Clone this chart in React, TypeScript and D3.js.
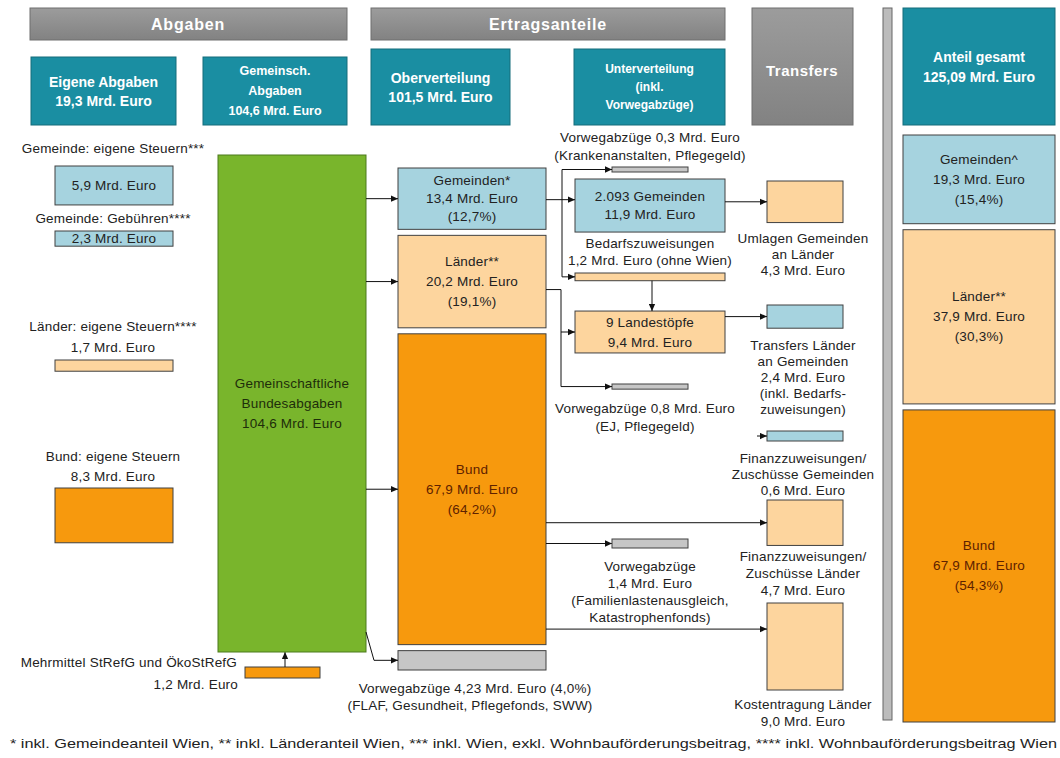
import React from "react";
import * as d3 from "d3";

// ---- data (Mrd. Euro) ----
const eigeneLabels = [
  ["Gemeinde: eigene Steuern***"],
  ["Gemeinde: Gebühren****"],
  ["Länder: eigene Steuern****"],
  ["Bund: eigene Steuern"],
];
const eigeneValues = [5.9, 2.3, 1.7, 8.3];
const eigeneTotal = 19.3;
const mehrmittelValue = 1.2;
const gemeinschValue = 104.6;

const oberLabels = ["Gemeinden*", "Länder**", "Bund"];
const oberValues = [13.4, 20.2, 67.9];
const oberShares = [12.7, 19.1, 64.2];
const oberTotal = 101.5;
const oberVorweg = 4.23;
const oberVorwegShare = 4.0;

const unterLabels = ["2.093 Gemeinden", "9 Landestöpfe"];
const unterValues = [11.9, 9.4];
const bedarfValue = 1.2;
const vorwegValues = [0.3, 0.8, 1.4];

const transferLabels = [
  ["Umlagen Gemeinden", "an Länder"],
  ["Transfers Länder", "an Gemeinden"],
  ["Finanzzuweisungen/", "Zuschüsse Gemeinden"],
  ["Finanzzuweisungen/", "Zuschüsse Länder"],
  ["Kostentragung Länder"],
];
const transferValues = [4.3, 2.4, 0.6, 4.7, 9.0];

const gesamtLabels = ["Gemeinden^", "Länder**", "Bund"];
const gesamtValues = [19.3, 37.9, 67.9];
const gesamtShares = [15.4, 30.3, 54.3];
const gesamtTotal = 125.09;

const footnote =
  "* inkl. Gemeindeanteil Wien, ** inkl. Länderanteil Wien, *** inkl. Wien, exkl. Wohnbauförderungsbeitrag, **** inkl. Wohnbauförderungsbeitrag Wien";

// ---- formatting ----
const de = d3.formatLocale({ decimal: ",", thousands: ".", grouping: [3], currency: ["", " €"] });
const f1 = de.format(".1f");
const f2 = de.format(".2f");
const mrd = (v: number, f = f1) => `${f(v)} Mrd. Euro`;
const pct = (v: number) => `(${f1(v)}%)`;

const C = {
  teal: "#1a8ea2",
  tealEdge: "#146c7b",
  blue: "#a6d3df",
  orangeLight: "#fdd59e",
  orange: "#f7990d",
  green: "#79b52c",
  gray: "#c6c6c6",
  stroke: "#404040",
  text: "#222",
  bund: "#5e2200",
};
const FONT = "'Liberation Sans', Arial, sans-serif";

// ---- layout ----
const COL = {
  eigen: [55, 173],
  gem: [218, 366],
  ober: [398, 546],
  unter: [575, 725],
  bar: [612, 688],
  transfer: [767, 843],
  gesamt: [903, 1055],
};
const GAP = 6;

// scales
const hEigen = d3.scaleLinear().domain([0, 10]).range([0, 66]);
const hGem = d3.scaleLinear().domain([0, gemeinschValue]).range([0, 497]);
const oberAll = [...oberValues, oberVorweg];
const hOber = d3.scaleLinear().domain([0, d3.sum(oberAll)]).range([0, 670 - 168 - GAP * 3]);
const hUnter = d3.scaleLinear().domain([0, 12]).range([0, 53.5]);
const hBar = d3.scaleLinear().domain([0, 1.4]).range([0, 9]);
const hTransfer = d3.scaleLinear().domain([0, 9]).range([0, 87]);
const hGesamt = d3.scaleLinear().domain([0, d3.sum(gesamtValues)]).range([0, 722 - 135 - GAP * 2]);

const stack = (vals: number[], top: number, h: (v: number) => number) => {
  let acc = top;
  return vals.map((v) => {
    const y = acc;
    const hh = h(v);
    acc += hh + GAP;
    return { y, h: hh, v };
  });
};

const eigeneTops = [166, 231, 360, 488];
const eigeneLabelY = [[148], [218], [326, 347], [456, 476]];
const eigeneBoxes = eigeneValues.map((v, i) => ({ y: eigeneTops[i], h: hEigen(v), v }));
const mehrBox = { y: 667, h: Math.max(11, hEigen(mehrmittelValue)) };
const gemBox = { y: 155, h: hGem(gemeinschValue) };
const oberBoxes = stack(oberAll, 168, hOber);
const gesamtBoxes = stack(gesamtValues, 135, hGesamt);

const barH = (v: number) => Math.max(5, hBar(v));
const v03 = { y: 167, h: barH(vorwegValues[0]) };
const unterGem = { y: 179, h: hUnter(unterValues[0]) };
const bedarf = { y: 273, h: barH(bedarfValue) };
const landH = hUnter(unterValues[1]);
const land = { y: 332 - landH / 2, h: landH };
const v08 = { y: 384, h: barH(vorwegValues[1]) };
const v14 = { y: 539, h: barH(vorwegValues[2]) };

const transferTops = [181, 305, 431, 500, 603];
const transferLabelY = [[238, 254, 270], [345, 361, 377, 393, 409], [458, 474, 490], [556, 573, 590], [704, 721]];
const transferBoxes = transferValues.map((v, i) => ({ y: transferTops[i], h: Math.max(10, hTransfer(v)), v }));
const transferExtra = [[], ["(inkl. Bedarfs-", "zuweisungen)"], [], [], []];

const mid = (b: { y: number; h: number }) => b.y + b.h / 2;
const line = d3.line();

// ---- helpers ----
const T = ({ x, y, children, size = 13.5, fill = C.text, anchor = "middle", weight = "normal", width, ls = 0.2 }: any) => (
  <text
    x={x}
    y={y}
    textAnchor={anchor}
    dominantBaseline="central"
    fontSize={size}
    fill={fill}
    fontWeight={weight}
    fontFamily={FONT}
    letterSpacing={ls}
    {...(width ? { textLength: width, lengthAdjust: "spacingAndGlyphs" } : {})}
  >
    {children}
  </text>
);

const Rect = ({ x0, x1, y, h, fill, stroke = C.stroke }: any) => (
  <rect x={x0} y={y} width={x1 - x0} height={h} fill={fill} stroke={stroke} strokeWidth={1} />
);

const Lines = ({ x, cy, lines, gap = 19, ...rest }: any) => (
  <>
    {lines.map((t: string, i: number) => (
      <T key={i} x={x} y={cy + (i - (lines.length - 1) / 2) * gap} {...rest}>
        {t}
      </T>
    ))}
  </>
);

const Arrow = ({ pts }: { pts: [number, number][] }) => (
  <path d={line(pts) || ""} fill="none" stroke="#111" strokeWidth={1} markerEnd="url(#ah)" />
);

const Plain = ({ pts }: { pts: [number, number][] }) => (
  <path d={line(pts) || ""} fill="none" stroke="#111" strokeWidth={1} />
);

const TealBox = ({ x0, x1, y0, y1, lines, size = 14, gap = 19 }: any) => (
  <g>
    <rect x={x0} y={y0} width={x1 - x0} height={y1 - y0} fill={C.teal} stroke={C.tealEdge} />
    <Lines x={(x0 + x1) / 2} cy={(y0 + y1) / 2} lines={lines} size={size} gap={gap} fill="#fff" weight="bold" ls={0} />
  </g>
);

const App = () => {
  const cx = (c: number[]) => (c[0] + c[1]) / 2;
  const fills3 = [C.blue, C.orangeLight, C.orange];
  const txt3 = [C.text, C.text, C.bund];
  const [, lO, , vO] = oberBoxes;
  const [umlagen, trL, finG, finL, kost] = transferBoxes;
  const oberGemY = mid(oberBoxes[0]) + 1;
  const oberLandY = mid(lO) + 8;

  return (
    <svg width={1060} height={758} style={{ position: "absolute", left: 0, top: 0, background: "#fff" }}>
      <defs>
        <marker id="ah" viewBox="0 0 10 10" refX="10" refY="5" markerWidth="9" markerHeight="7" orient="auto" markerUnits="userSpaceOnUse">
          <path d="M0,0.5 L10,5 L0,9.5 z" fill="#111" />
        </marker>
        <linearGradient id="hdr" x1="0" y1="0" x2="0" y2="1">
          <stop offset="0" stopColor="#9c9c9c" />
          <stop offset="1" stopColor="#828282" />
        </linearGradient>
      </defs>

      {/* header bars */}
      <rect x={30} y={8} width={317} height={32} fill="url(#hdr)" stroke="#6f6f6f" />
      <T x={188} y={24} size={16} fill="#fff" weight="bold" ls={0.8}>Abgaben</T>
      <rect x={371} y={8} width={354} height={32} fill="url(#hdr)" stroke="#6f6f6f" />
      <T x={548} y={24} size={16} fill="#fff" weight="bold" ls={0.8}>Ertragsanteile</T>
      <rect x={752} y={8} width={101} height={117} fill="url(#hdr)" stroke="#6f6f6f" />
      <T x={802} y={70} size={15} fill="#fff" weight="bold" ls={0.5}>Transfers</T>
      <rect x={883} y={8} width={9} height={712} fill="#bcbcbc" stroke="#666" />

      <TealBox x0={31} x1={176} y0={57} y1={125} lines={["Eigene Abgaben", mrd(eigeneTotal)]} />
      <TealBox x0={203} x1={347} y0={57} y1={125} lines={["Gemeinsch.", "Abgaben", mrd(gemeinschValue)]} size={12.5} gap={20} />
      <TealBox x0={371} x1={510} y0={49} y1={125} lines={["Oberverteilung", mrd(oberTotal)]} />
      <TealBox x0={574} x1={725} y0={49} y1={125} lines={["Unterverteilung", "(inkl.", "Vorwegabzüge)"]} size={12} gap={18} />
      <TealBox x0={903} x1={1055} y0={8} y1={125} lines={["Anteil gesamt", mrd(gesamtTotal, f2)]} size={14} gap={20} />

      {/* eigene Abgaben */}
      {eigeneBoxes.map((b, i) => {
        const fill = i < 2 ? C.blue : i === 2 ? C.orangeLight : C.orange;
        const lbl = i < 2 ? eigeneLabels[i] : [...eigeneLabels[i], mrd(b.v)];
        return (
          <g key={i}>
            {lbl.map((t, j) => (
              <T key={j} x={113} y={eigeneLabelY[i][j]}>{t}</T>
            ))}
            <Rect x0={COL.eigen[0]} x1={COL.eigen[1]} y={b.y} h={b.h} fill={fill} />
            {i < 2 && <T x={114} y={mid(b)}>{mrd(b.v)}</T>}
          </g>
        );
      })}
      <T x={237} y={662} anchor="end">Mehrmittel StRefG und ÖkoStRefG</T>
      <T x={238} y={684} anchor="end">{mrd(mehrmittelValue)}</T>
      <Rect x0={245} x1={320} y={mehrBox.y} h={mehrBox.h} fill={C.orange} />
      <Arrow pts={[[285, mehrBox.y], [285, gemBox.y + gemBox.h]]} />

      {/* Gemeinschaftliche Bundesabgaben */}
      <Rect x0={COL.gem[0]} x1={COL.gem[1]} y={gemBox.y} h={gemBox.h} fill={C.green} stroke="#4d7a1c" />
      <Lines x={cx(COL.gem)} cy={mid(gemBox)} lines={["Gemeinschaftliche", "Bundesabgaben", mrd(gemeinschValue)]} gap={20} fill="#1e2e0a" />

      {/* Oberverteilung */}
      {oberValues.map((v, i) => {
        const b = oberBoxes[i];
        return (
          <g key={i}>
            <Rect x0={COL.ober[0]} x1={COL.ober[1]} y={b.y} h={b.h} fill={fills3[i]} />
            <Lines x={cx(COL.ober)} cy={mid(b)} lines={[oberLabels[i], mrd(v), pct(oberShares[i])]} gap={i === 0 ? 18 : 20} fill={txt3[i]} />
            <Arrow pts={[[COL.gem[1], mid(b)], [COL.ober[0], mid(b)]]} />
          </g>
        );
      })}
      <Rect x0={COL.ober[0]} x1={COL.ober[1]} y={vO.y} h={vO.h} fill={C.gray} />
      <Arrow pts={[[COL.gem[1], gemBox.y + gemBox.h - 20], [374, mid(vO)], [COL.ober[0], mid(vO)]]} />
      <T x={475} y={688}>{`Vorwegabzüge ${f2(oberVorweg)} Mrd. Euro (${f1(oberVorwegShare)}%)`}</T>
      <T x={470} y={705}>(FLAF, Gesundheit, Pflegefonds, SWW)</T>

      {/* Unterverteilung */}
      <T x={650} y={137}>{`Vorwegabzüge ${mrd(vorwegValues[0])}`}</T>
      <T x={650} y={155}>(Krankenanstalten, Pflegegeld)</T>
      <Rect x0={COL.bar[0]} x1={COL.bar[1]} y={v03.y} h={v03.h} fill={C.gray} />
      <Rect x0={COL.unter[0]} x1={COL.unter[1]} y={unterGem.y} h={unterGem.h} fill={C.blue} />
      <Lines x={cx(COL.unter)} cy={mid(unterGem)} lines={[unterLabels[0], mrd(unterValues[0])]} gap={18} />
      <T x={650} y={243}>Bedarfszuweisungen</T>
      <T x={650} y={260}>{`${mrd(bedarfValue)} (ohne Wien)`}</T>
      <Rect x0={COL.unter[0]} x1={COL.unter[1]} y={bedarf.y} h={bedarf.h} fill={C.orangeLight} />
      <Rect x0={COL.unter[0]} x1={COL.unter[1]} y={land.y} h={land.h} fill={C.orangeLight} />
      <Lines x={cx(COL.unter)} cy={mid(land)} lines={[unterLabels[1], mrd(unterValues[1])]} gap={20} />
      <Rect x0={COL.bar[0]} x1={COL.bar[1]} y={v08.y} h={v08.h} fill={C.gray} />
      <T x={645} y={408}>{`Vorwegabzüge ${mrd(vorwegValues[1])}`}</T>
      <T x={645} y={426}>(EJ, Pflegegeld)</T>

      <Arrow pts={[[COL.ober[1], oberGemY], [COL.unter[0], oberGemY]]} />
      <Plain pts={[[562, mid(v03)], [562, mid(bedarf)]]} />
      <Arrow pts={[[562, mid(v03)], [COL.bar[0], mid(v03)]]} />
      <Arrow pts={[[562, mid(bedarf)], [COL.unter[0], mid(bedarf)]]} />
      <Plain pts={[[COL.ober[1], oberLandY], [561, oberLandY], [561, mid(v08)]]} />
      <Arrow pts={[[561, mid(land)], [COL.unter[0], mid(land)]]} />
      <Arrow pts={[[561, mid(v08)], [COL.bar[0], mid(v08)]]} />
      <Arrow pts={[[652, bedarf.y + bedarf.h], [652, land.y]]} />

      {/* Transfers */}
      {transferBoxes.map((b, i) => {
        const fill = i === 1 || i === 2 ? C.blue : C.orangeLight;
        const lbl = [...transferLabels[i], mrd(b.v), ...transferExtra[i]];
        return (
          <g key={i}>
            <Rect x0={COL.transfer[0]} x1={COL.transfer[1]} y={b.y} h={b.h} fill={fill} />
            {lbl.map((t, j) => (
              <T key={j} x={803} y={transferLabelY[i][j]}>{t}</T>
            ))}
          </g>
        );
      })}
      <Arrow pts={[[COL.unter[1], mid(umlagen)], [COL.transfer[0], mid(umlagen)]]} />
      <Arrow pts={[[COL.unter[1], mid(trL)], [COL.transfer[0], mid(trL)]]} />
      <Arrow pts={[[757, mid(finG)], [COL.transfer[0], mid(finG)]]} />
      <Arrow pts={[[COL.ober[1], mid(finL)], [COL.transfer[0], mid(finL)]]} />
      <Arrow pts={[[COL.ober[1], mid(v14)], [COL.bar[0], mid(v14)]]} />
      <Arrow pts={[[COL.ober[1], kost.y + kost.h * 0.3], [COL.transfer[0], kost.y + kost.h * 0.3]]} />
      <Rect x0={COL.bar[0]} x1={COL.bar[1]} y={v14.y} h={v14.h} fill={C.gray} />
      <Lines x={650} cy={592} lines={["Vorwegabzüge", mrd(vorwegValues[2]), "(Familienlastenausgleich,", "Katastrophenfonds)"]} gap={17.3} />

      {/* Anteil gesamt */}
      {gesamtBoxes.map((b, i) => (
        <g key={i}>
          <Rect x0={COL.gesamt[0]} x1={COL.gesamt[1]} y={b.y} h={b.h} fill={fills3[i]} />
          <Lines x={cx(COL.gesamt)} cy={mid(b)} lines={[gesamtLabels[i], mrd(b.v), pct(gesamtShares[i])]} gap={20} fill={txt3[i]} />
        </g>
      ))}

      <T x={10} y={743} anchor="start" size={13.5} width={1047} ls={0}>{footnote}</T>
    </svg>
  );
};

export default App;
